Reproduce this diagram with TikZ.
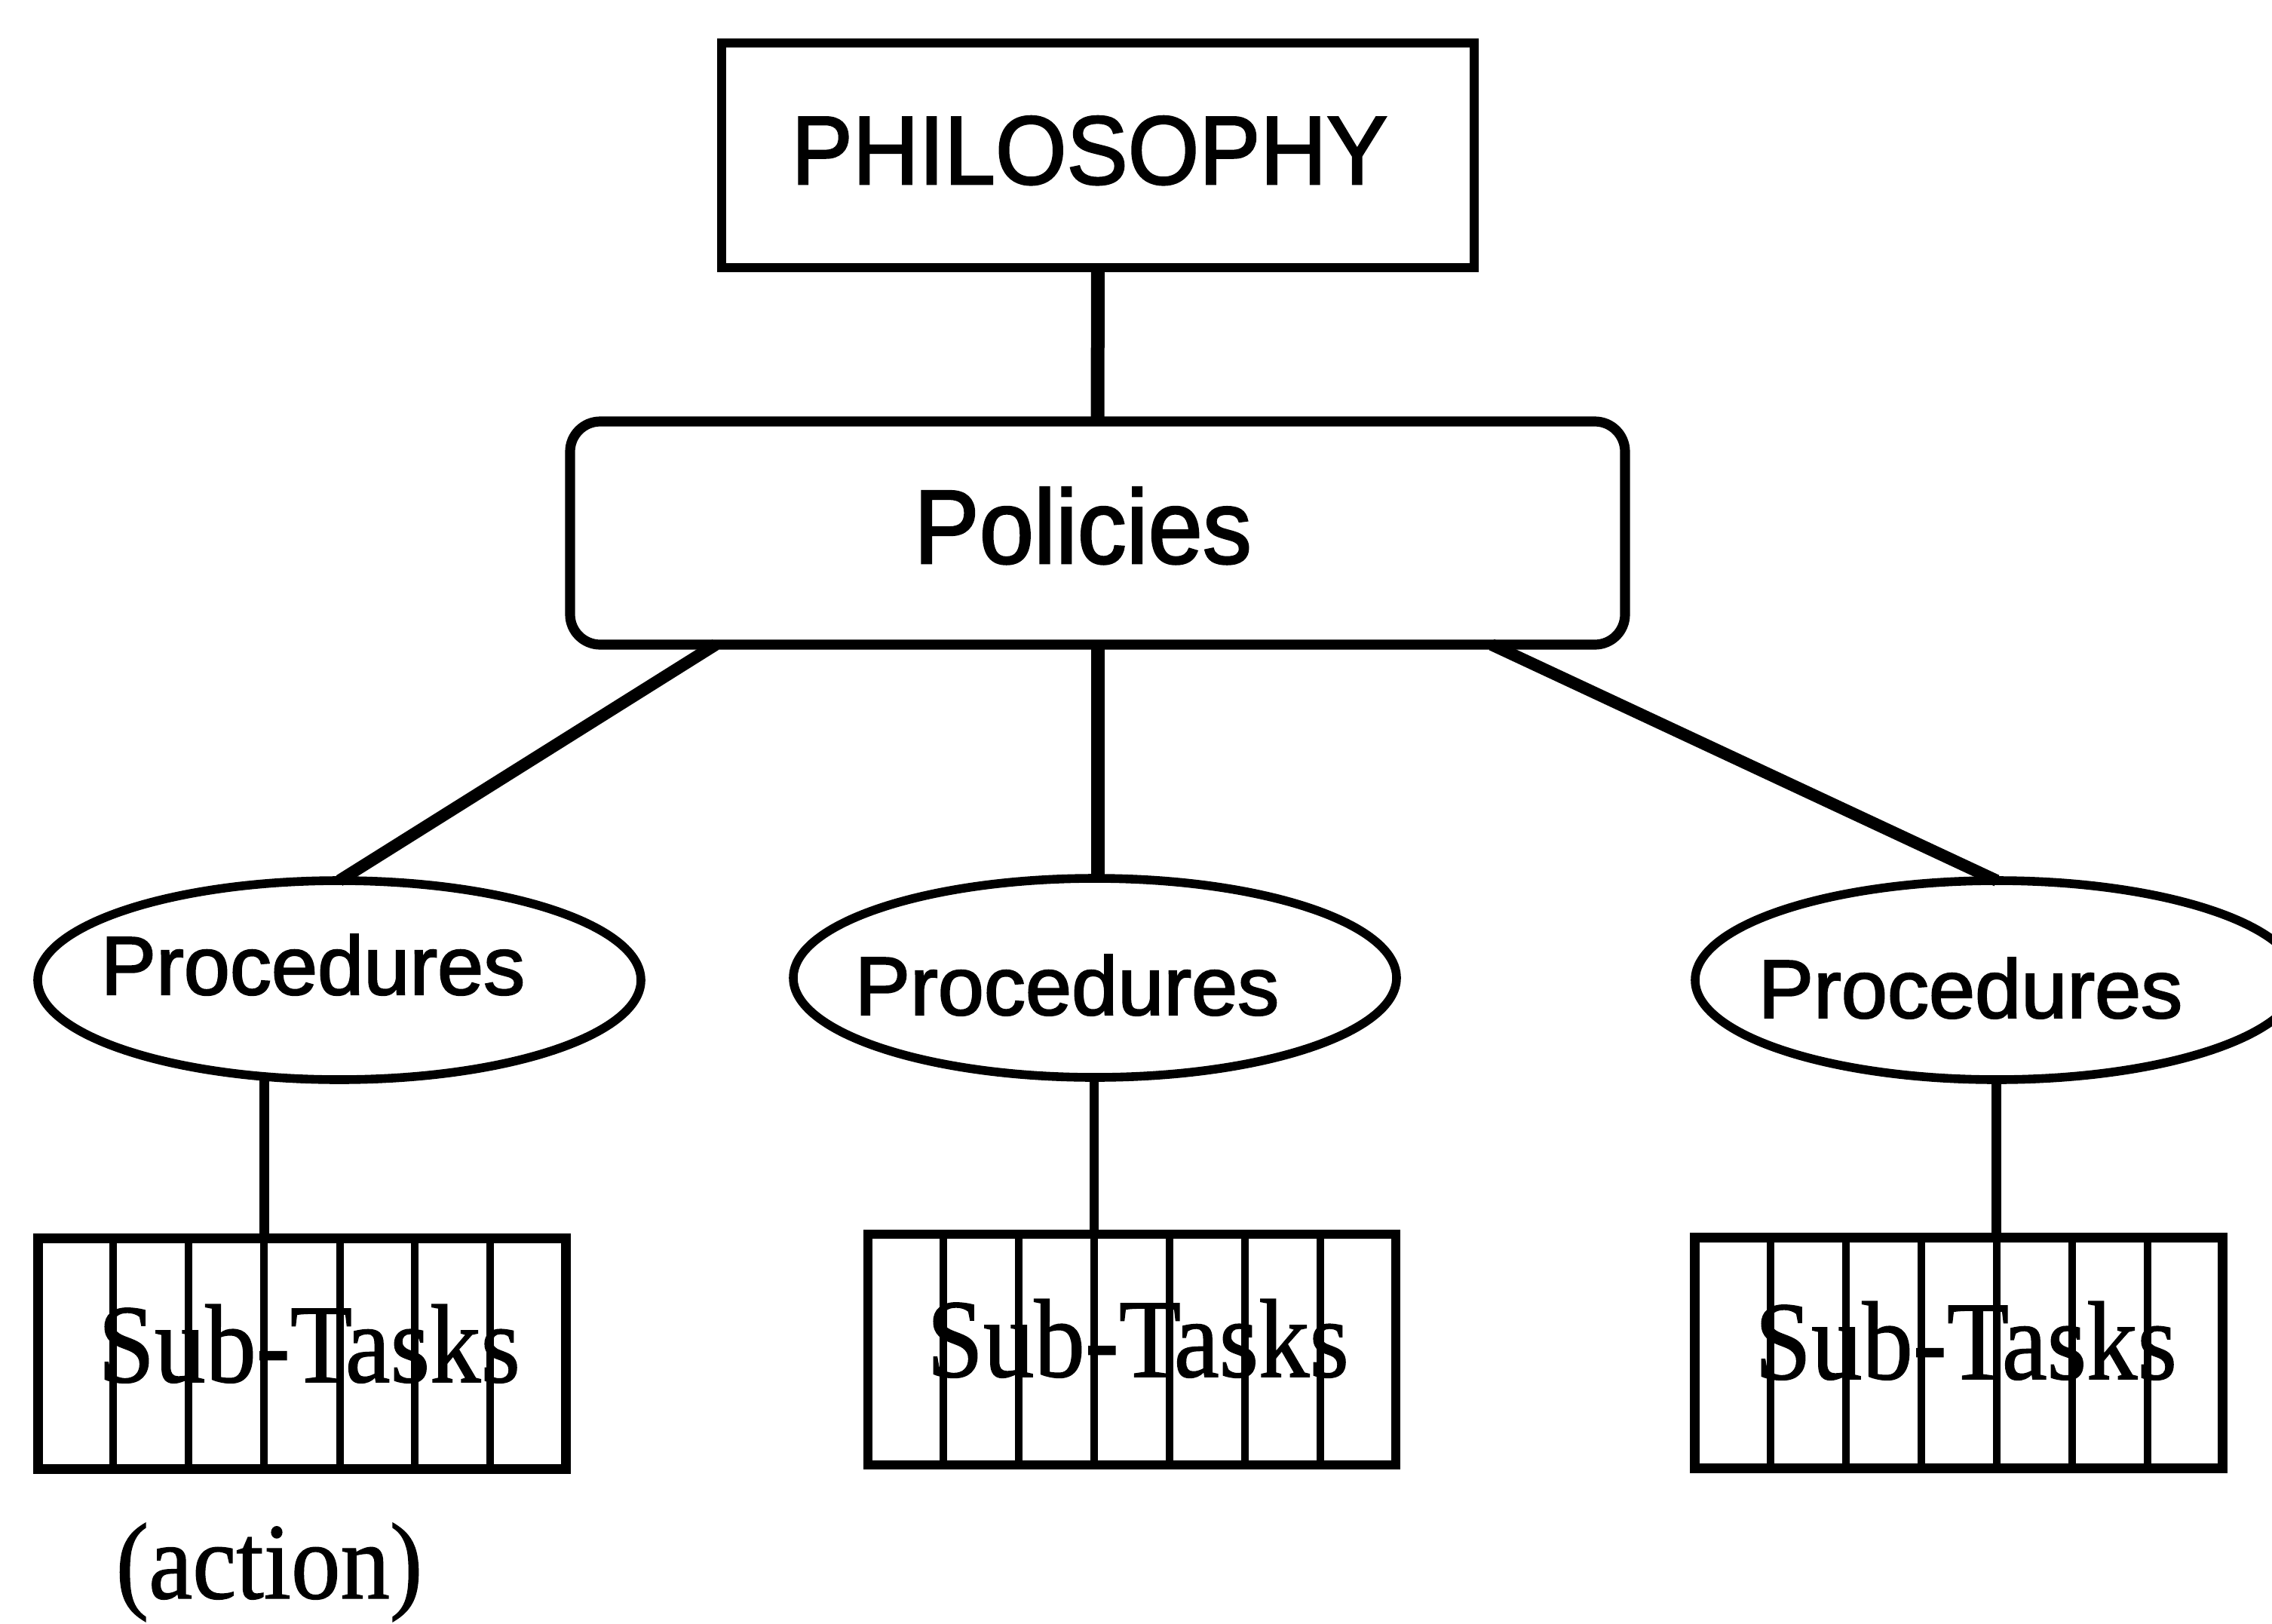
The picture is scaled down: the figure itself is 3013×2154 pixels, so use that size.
\documentclass[tikz,border=0pt]{standalone}
\usepackage{fontspec}
\setmainfont{Liberation Serif}[FakeBold=1.0]
\newfontfamily\helv{Liberation Sans}[FakeBold=2.0]
\usetikzlibrary{shapes.geometric,calc}

% vertically stretched text
\newcommand{\vstretch}[2]{\scalebox{1}[#1]{#2}}

\begin{document}
\begin{tikzpicture}[x=0.25pt,y=-0.25pt,
  frame/.style={draw,inner sep=0pt,outer sep=0pt},
  headbox/.style={frame,rectangle,line width=3.2pt,
    minimum width=998*0.25pt,minimum height=298*0.25pt},
  policybox/.style={frame,rectangle,rounded corners=10pt,line width=3.3pt,
    minimum width=1399*0.25pt,minimum height=296*0.25pt},
  procell/.style={frame,ellipse,line width=2.9pt,
    minimum width=800*0.25pt,minimum height=264*0.25pt},
  taskbox/.style={frame,rectangle,line width=3.2pt,
    minimum width=700*0.25pt,minimum height=306*0.25pt},
  colline/.style={line width=2.5pt},
  stem/.style={line width=4.5pt},
  branch/.style={line width=4pt},
  twig/.style={line width=3.2pt},
  label/.style={inner sep=0pt,outer sep=0pt,anchor=base},
  sanslabel/.style={label,font=\helv},
  seriflabel/.style={label,font=\fontsize{33.7}{40}\selectfont},
]
\useasboundingbox[fill=white] (0,0) rectangle (3013,2154);

% shapes
\node[headbox]   (phil) at (1456,206) {};
\node[policybox] (pol)  at (1455.5,707) {};
\node[procell]   (e1)   at (450,1300) {};
\node[procell]   (e2)   at (1452,1297) {};
\node[procell]   (e3)   at (2648,1300) {};
\node[taskbox]   (t1)   at (400.5,1795.5) {};
\node[taskbox]   (t2)   at (1501,1790) {};
\node[taskbox]   (t3)   at (2597.5,1794.5) {};

% column rules inside the sub-task boxes
\foreach \b in {t1,t2,t3}
  \foreach \k in {1,...,6}
    \draw[colline] ($(\b.north west)!\k/7!(\b.north east)$)
                -- ($(\b.south west)!\k/7!(\b.south east)$);

% connectors
\draw[stem] (phil.south) -- (pol.north);
\draw[branch] ($(pol.south west)!0.138!(pol.south east)$) -- (e1.north);
\draw[stem] (pol.south) -- (pol.south |- e2.north);
\draw[branch] ($(pol.south west)!0.8735!(pol.south east)$) -- (e3.north);

\coordinate (c1) at ($(t1.north west)!3/7!(t1.north east)$);
\coordinate (c2) at ($(t2.north west)!3/7!(t2.north east)$);
\coordinate (c3) at ($(t3.north west)!4/7!(t3.north east)$);
\draw[twig] (c1) -- (c1 |- e1.south);
\draw[twig] (c2) -- (c2 |- e2.south);
\draw[twig] (c3) -- (c3 |- e3.south);

% texts
\node[sanslabel,font=\helv\fontsize{30.4}{36}\selectfont] (philtext) at (1445,244)
  {\vstretch{1.06}{PHILOSOPHY}};
\node[sanslabel,font=\helv\fontsize{32.5}{38}\selectfont] (poltext) at (1436,747)
  {\vstretch{1.07}{Policies}};
\node[sanslabel,font=\helv\fontsize{27.5}{33}\selectfont] (p1text) at (415,1319) {Procedures};
\node[sanslabel,font=\helv\fontsize{27.5}{33}\selectfont] (p2text) at (1415,1346) {Procedures};
\node[sanslabel,font=\helv\fontsize{27.5}{33}\selectfont] (p3text) at (2613,1350) {Procedures};
\node[seriflabel] (s1text) at (410,1833) {\vstretch{1.1}{Sub-Tasks}};
\node[seriflabel] (s2text) at (1509,1826) {\vstretch{1.1}{Sub-Tasks}};
\node[seriflabel] (s3text) at (2607,1829) {\vstretch{1.1}{Sub-Tasks}};
\node[seriflabel,font=\fontsize{32.7}{38}\selectfont] (action) at (357,2120)
  {\vstretch{1.1}{(action)}};
\end{tikzpicture}
\end{document}
